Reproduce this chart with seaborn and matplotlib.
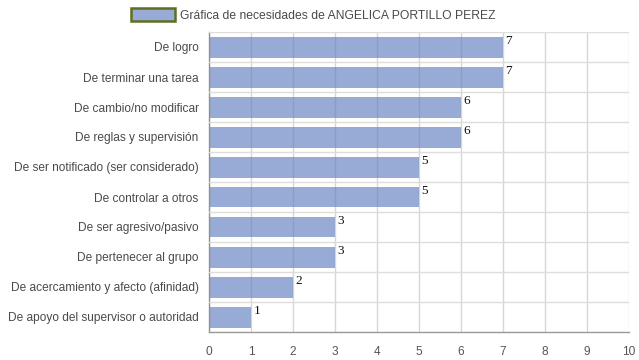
import matplotlib
matplotlib.use("Agg")
import matplotlib.pyplot as plt
import seaborn as sns
import pandas as pd
from matplotlib.patches import Patch

categories = [
    "De logro",
    "De terminar una tarea",
    "De cambio/no modificar",
    "De reglas y supervisión",
    "De ser notificado (ser considerado)",
    "De controlar a otros",
    "De ser agresivo/pasivo",
    "De pertenecer al grupo",
    "De acercamiento y afecto (afinidad)",
    "De apoyo del supervisor o autoridad",
]
values = [7, 7, 6, 6, 5, 5, 3, 3, 2, 1]
series_name = "Gráfica de necesidades de ANGELICA PORTILLO PEREZ"
xticks = list(range(0, 11))

sns.set_theme(style="white")
plt.rcParams["font.family"] = ["Liberation Sans", "DejaVu Sans"]

df = pd.DataFrame({"cat": categories, "val": values})

fig = plt.figure(figsize=(6.39, 3.6), dpi=100)
ax = fig.add_axes([209 / 639, 1 - 332 / 360, 420 / 639, 300 / 360])

bar_color = "#97abd6"
sns.barplot(data=df, y="cat", x="val", orient="h", color=bar_color,
            width=0.7, ax=ax, saturation=1, linewidth=0)

ax.set_xlim(0, 10)
ax.set_ylim(9.5, -0.5)
ax.set_xticks(xticks)
ax.set_xticklabels([str(t) for t in xticks], color="#555555", fontsize=8.6)
ax.tick_params(axis="x", length=0, pad=10)
ax.tick_params(axis="y", which="major", length=0, pad=7.5, labelsize=8.6, labelcolor="#4a4a4a")
ax.set_yticks([i - 0.5 for i in range(11)], minor=True)
ax.tick_params(axis="y", which="minor", length=4, color="#dddddd", width=1)
ax.set_xlabel("")
ax.set_ylabel("")

ax.set_axisbelow(False)
ax.grid(axis="x", which="major", color="#808080", alpha=0.32, linewidth=1)
ax.grid(axis="y", which="minor", color="#dddddd", linewidth=1)
ax.grid(axis="y", which="major", visible=False)

for s in ["top", "right"]:
    ax.spines[s].set_visible(False)
ax.spines["bottom"].set_color("#999999")
ax.spines["left"].set_color("#999999")
ax.spines["bottom"].set_linewidth(1)
ax.spines["left"].set_linewidth(1)

for i, v in enumerate(values):
    ax.text(v + 0.06, i - 0.4, str(v), ha="left", va="top",
            fontsize=9.5, family=["Liberation Serif", "DejaVu Serif"], color="#111111")

handle = Patch(facecolor=bar_color, edgecolor="#5f6f1f", linewidth=1.8)
fig.legend([handle], [series_name], loc="center", bbox_to_anchor=(313 / 639, 1 - 15 / 360),
           frameon=False, fontsize=8.7, handlelength=3.7, handleheight=1.2,
           labelcolor="#4a4a4a", handletextpad=0.35)

fig.savefig("out.png", dpi=100)
